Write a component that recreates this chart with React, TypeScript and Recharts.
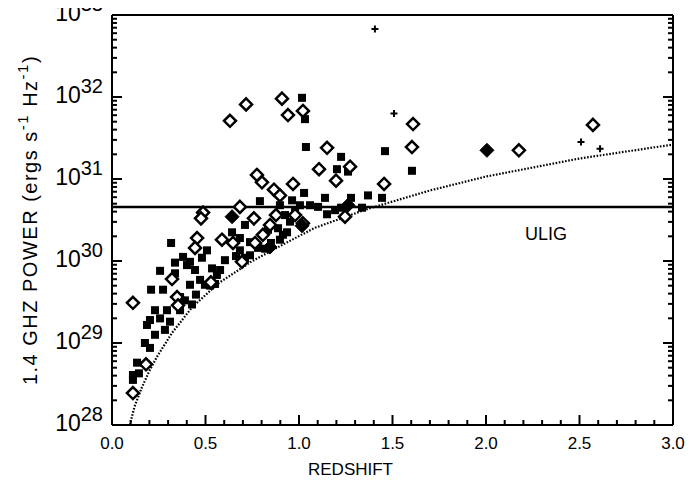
import React from "react";
import {
  ComposedChart,
  Scatter,
  XAxis,
  YAxis,
  ReferenceLine,
} from "recharts";

// ---- data: [redshift, log10(1.4 GHz power)] ----
const squares: [number, number][] = [
  [1.016, 31.99], [1.032, 31.73], [1.037, 31.39], [1.225, 31.27], [1.203, 31.12],
  [1.262, 31.09], [1.46, 31.34], [1.604, 31.1], [1.444, 30.77], [1.027, 30.83],
  [1.139, 30.77], [1.369, 30.8], [1.278, 30.77], [1.225, 30.65], [1.102, 30.66],
  [1.15, 30.57], [0.936, 30.35], [0.791, 30.73], [0.642, 30.35], [0.834, 30.38],
  [0.85, 30.22], [0.738, 30.23], [0.684, 30.13], [0.663, 30.06], [0.711, 30.04],
  [0.38, 30.05], [0.316, 30.22], [0.337, 29.98], [0.257, 29.88], [0.337, 29.85],
  [0.209, 29.65], [0.273, 29.65], [0.187, 29.22], [0.176, 29.0], [0.203, 28.94],
  [0.134, 28.76], [0.112, 28.61], [0.144, 28.63], [0.112, 28.55], [0.508, 30.13],
  [0.535, 29.91], [0.561, 29.83], [0.401, 29.95], [0.444, 29.89], [0.471, 29.77],
  [0.417, 29.71], [0.497, 29.71], [0.524, 29.7], [0.449, 29.59], [0.39, 29.52],
  [0.428, 29.47], [0.551, 29.72], [0.364, 29.56], [0.294, 29.4], [0.23, 29.4],
  [0.257, 29.3], [0.203, 29.28], [0.31, 29.26], [0.283, 29.16], [0.23, 29.1],
  [0.364, 29.4], [0.604, 30.01], [0.578, 29.89], [0.738, 30.07], [0.898, 30.68],
  [0.925, 30.56], [0.952, 30.48], [0.914, 30.32], [0.979, 30.62], [0.963, 30.74],
  [0.888, 30.4], [1.005, 30.68], [1.059, 30.68], [1.193, 30.62], [1.337, 30.65],
  [0.818, 30.15], [0.781, 30.16], [0.684, 30.28], [0.711, 30.44], [0.898, 30.26],
  [0.481, 30.04], [0.417, 29.99],
];

const openDiamonds: [number, number][] = [
  [0.631, 31.71], [0.717, 31.91], [0.909, 31.98], [0.941, 31.78], [1.021, 31.83],
  [1.15, 31.38], [1.107, 31.12], [1.273, 31.15], [1.198, 30.98], [0.968, 30.94],
  [1.455, 30.94], [1.61, 31.67], [1.604, 31.39], [2.176, 31.35], [2.572, 31.66],
  [0.775, 31.05], [0.802, 30.96], [0.866, 30.87], [0.684, 30.66], [0.487, 30.59],
  [0.476, 30.52], [0.759, 30.52], [0.877, 30.56], [0.979, 30.56], [1.021, 30.46],
  [1.246, 30.54], [0.455, 30.28], [0.444, 30.16], [0.588, 30.26], [0.695, 29.99],
  [0.765, 30.22], [0.321, 29.78], [0.348, 29.56], [0.353, 29.46], [0.112, 29.49],
  [0.182, 28.74], [0.112, 28.39], [0.529, 29.74], [0.898, 30.8], [0.845, 30.44],
  [0.807, 30.32], [0.647, 30.22],
];

const filledDiamonds: [number, number][] = [
  [2.005, 31.35], [0.642, 30.54], [1.016, 30.43], [1.262, 30.68], [0.845, 30.17],
];

const pluses: [number, number][] = [
  [1.406, 32.83], [1.508, 31.8], [2.508, 31.45], [2.61, 31.37],
];

// flux-limit curve
const limitCurve: [number, number][] = [
  [0.095, 28.0], [0.12, 28.22], [0.16, 28.46], [0.2, 28.66], [0.24, 28.83],
  [0.32, 29.12], [0.43, 29.44], [0.57, 29.73], [0.75, 30.0], [0.93, 30.22],
  [1.08, 30.4], [1.36, 30.63], [1.7, 30.86], [2.0, 31.03], [2.5, 31.25], [3.0, 31.42],
];

const ULIG_LEVEL = 30.66;
const ULIG_LABEL = "ULIG";

const X_DOMAIN: [number, number] = [0, 3];
const Y_DOMAIN: [number, number] = [28, 33];
const X_MAJOR = [0, 0.5, 1, 1.5, 2, 2.5, 3];
const X_TICKS = Array.from({ length: 31 }, (_, i) => Math.round(i) / 10);
const Y_TICKS: number[] = [];
for (let n = 28; n < 33; n++) {
  for (let k = 1; k <= 9; k++) Y_TICKS.push(n + Math.log10(k));
}
Y_TICKS.push(33);

const toRows = (arr: [number, number][]) => arr.map(([z, p]) => ({ z, p }));

const FONT = '"Liberation Sans", Arial, sans-serif';
const TM = 4;
const MAJ = 10;
const MIN = 5;

const isMajorY = (v: number) => Math.abs(v - Math.round(v)) < 1e-6;
const isMajorX = (v: number) => X_MAJOR.some((m) => Math.abs(m - v) < 1e-6);

function BottomTick(props: any) {
  const { x, y, payload } = props;
  const v = payload.value;
  const ay = y - TM;
  const major = isMajorX(v);
  return (
    <g>
      <line x1={x} x2={x} y1={ay} y2={ay - (major ? MAJ : MIN)} stroke="#000" strokeWidth={2} />
      {major && (
        <text x={x} y={ay + 24} textAnchor="middle" fontFamily={FONT} fontSize={17} fill="#000">
          {v.toFixed(1)}
        </text>
      )}
    </g>
  );
}

function TopTick(props: any) {
  const { x, y, payload } = props;
  const ay = y + TM;
  const major = isMajorX(payload.value);
  return <line x1={x} x2={x} y1={ay} y2={ay + (major ? MAJ : MIN)} stroke="#000" strokeWidth={2} />;
}

function LeftTick(props: any) {
  const { x, y, payload } = props;
  const v = payload.value;
  const ax = x + TM;
  const major = isMajorY(v);
  return (
    <g>
      <line x1={ax} x2={ax + (major ? MAJ : MIN)} y1={y} y2={y} stroke="#000" strokeWidth={2} />
      {major && (
        <text x={ax - 9} y={y + 6} textAnchor="end" fontFamily={FONT} fill="#000">
          <tspan fontSize={23}>10</tspan>
          <tspan fontSize={20} dy={-10}>{Math.round(v)}</tspan>
        </text>
      )}
    </g>
  );
}

function RightTick(props: any) {
  const { x, y, payload } = props;
  const ax = x - TM;
  const major = isMajorY(payload.value);
  return <line x1={ax} x2={ax - (major ? MAJ : MIN)} y1={y} y2={y} stroke="#000" strokeWidth={2} />;
}

function YTitle(props: any) {
  const vb = props.viewBox || {};
  const cx = vb.x - 18;
  const cy = vb.y + vb.height / 2;
  return (
    <text
      x={cx}
      y={cy}
      transform={`rotate(-90 ${cx} ${cy})`}
      textAnchor="middle"
      dominantBaseline="central"
      fontFamily={FONT}
      fontSize={20}
      letterSpacing={1.5}
      fill="#000"
    >
      1.4 GHZ POWER (ergs s
      <tspan fontSize={15} dy={-8}>-1</tspan>
      <tspan dy={8}> Hz</tspan>
      <tspan fontSize={15} dy={-8}>-1</tspan>
      <tspan dy={8}>)</tspan>
    </text>
  );
}

function XTitle(props: any) {
  const vb = props.viewBox || {};
  return (
    <text x={vb.x + vb.width / 2 - 42} y={vb.y + 50} textAnchor="middle" fontFamily={FONT} fontSize={17} fill="#000">
      REDSHIFT
    </text>
  );
}

function UligLabel(props: any) {
  const vb = props.viewBox || {};
  return (
    <text x={vb.x + vb.width - 148} y={vb.y + 33} fontFamily={FONT} fontSize={18} fill="#000">
      {ULIG_LABEL}
    </text>
  );
}

const SquareShape = (p: any) => (
  <rect x={p.cx - 4} y={p.cy - 4} width={8} height={8} fill="#000" />
);
const DiamondShape = (p: any) => (
  <path
    d={`M${p.cx},${p.cy - 6}L${p.cx + 6},${p.cy}L${p.cx},${p.cy + 6}L${p.cx - 6},${p.cy}Z`}
    fill="#fff"
    stroke="#000"
    strokeWidth={2.5}
  />
);
const FilledDiamondShape = (p: any) => (
  <path
    d={`M${p.cx},${p.cy - 7}L${p.cx + 7},${p.cy}L${p.cx},${p.cy + 7}L${p.cx - 7},${p.cy}Z`}
    fill="#000"
    stroke="#000"
    strokeWidth={1}
  />
);
const PlusShape = (p: any) => (
  <path
    d={`M${p.cx - 3.5},${p.cy}H${p.cx + 3.5}M${p.cx},${p.cy - 3.5}V${p.cy + 3.5}`}
    stroke="#000"
    strokeWidth={2}
  />
);
const NoShape = () => <g />;

export default function App() {
  return (
    <div style={{ width: 685, height: 486, background: "#fff" }}>
      <ComposedChart
        width={685}
        height={486}
        margin={{ top: 6, right: 19, left: 40, bottom: 19 }}
      >
        <XAxis
          dataKey="z"
          type="number"
          domain={X_DOMAIN}
          ticks={X_TICKS}
          interval={0}
          tickSize={0}
          tickMargin={TM}
          tickLine={false}
          tick={<BottomTick />}
          axisLine={{ stroke: "#000", strokeWidth: 2 }}
          height={50}
          allowDataOverflow
          label={(p: any) => <XTitle viewBox={p.viewBox} />}
        />
        <XAxis
          xAxisId="top"
          orientation="top"
          type="number"
          domain={X_DOMAIN}
          ticks={X_TICKS}
          interval={0}
          tickSize={0}
          tickMargin={TM}
          tickLine={false}
          tick={<TopTick />}
          axisLine={{ stroke: "#000", strokeWidth: 2 }}
          height={1}
          allowDataOverflow
        />
        <YAxis
          dataKey="p"
          type="number"
          domain={Y_DOMAIN}
          ticks={Y_TICKS}
          interval={0}
          tickSize={0}
          tickMargin={TM}
          tickLine={false}
          tick={<LeftTick />}
          axisLine={{ stroke: "#000", strokeWidth: 2 }}
          width={64}
          allowDataOverflow
          label={(p: any) => <YTitle viewBox={p.viewBox} />}
        />
        <YAxis
          yAxisId="right"
          orientation="right"
          type="number"
          domain={Y_DOMAIN}
          ticks={Y_TICKS}
          interval={0}
          tickSize={0}
          tickMargin={TM}
          tickLine={false}
          tick={<RightTick />}
          axisLine={{ stroke: "#000", strokeWidth: 2 }}
          width={1}
          allowDataOverflow
        />
        <ReferenceLine
          y={ULIG_LEVEL}
          stroke="#000"
          strokeWidth={2.5}
          label={(p: any) => <UligLabel viewBox={p.viewBox} />}
        />
        <Scatter
          data={toRows(limitCurve)}
          dataKey="p"
          shape={NoShape}
          line={{ stroke: "#000", strokeWidth: 2.2, strokeDasharray: "1.6 1.6" }}
          lineType="joint"
          isAnimationActive={false}
        />
        <Scatter data={toRows(squares)} dataKey="p" shape={SquareShape} isAnimationActive={false} />
        <Scatter data={toRows(openDiamonds)} dataKey="p" shape={DiamondShape} isAnimationActive={false} />
        <Scatter data={toRows(filledDiamonds)} dataKey="p" shape={FilledDiamondShape} isAnimationActive={false} />
        <Scatter data={toRows(pluses)} dataKey="p" shape={PlusShape} isAnimationActive={false} />
      </ComposedChart>
    </div>
  );
}
